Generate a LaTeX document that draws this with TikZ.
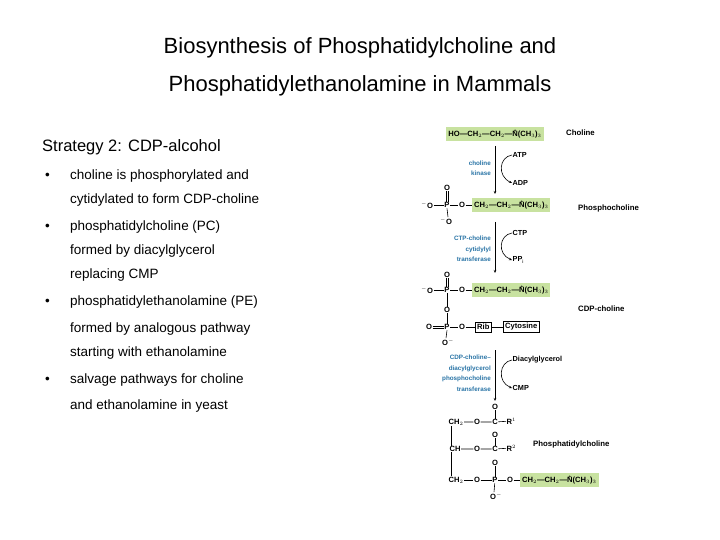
\documentclass[tikz,border=0pt]{standalone}
\usepackage{fontspec}
\setmainfont{Liberation Sans}
\usetikzlibrary{arrows.meta}
\definecolor{gbox}{RGB}{200,226,160}
\definecolor{enz}{RGB}{40,115,165}
\newcommand\Np{\makebox[0pt][l]{\raisebox{1.1ex}{\kern0.2em\fontsize{4.5}{4.5}\selectfont+}}N}
\newcommand\chn{CH$_2$—CH$_2$—\Np(CH$_3$)$_3$}
\tikzset{
 chem/.style={inner sep=0.5pt,font=\fontsize{7.6}{8}\selectfont\bfseries},
 green/.style={chem,fill=gbox,inner xsep=2pt,inner ysep=2.5pt},
 lab/.style={inner sep=0pt,font=\fontsize{7.8}{8}\selectfont\bfseries,anchor=west},
 enzl/.style={inner sep=0pt,font=\fontsize{6.3}{10.5}\selectfont\bfseries,text=enz,align=right,anchor=east},
 bond/.style={line width=0.6pt},
 rxn/.style={line width=0.6pt,-{Stealth[length=3pt,width=2.5pt]}},
 side/.style={inner sep=0.5pt,font=\fontsize{7.3}{8}\selectfont\bfseries,anchor=west},
 bl/.style={anchor=west,inner sep=0pt,font=\fontsize{13.5}{16}\selectfont}
}
\begin{document}
\begin{tikzpicture}[x=1pt,y=-1pt]
\useasboundingbox (0,0) rectangle (720,540);
% title
\node[font=\fontsize{22}{26}\selectfont] (t1) at (360,48) {Biosynthesis of Phosphatidylcholine and};
\node[font=\fontsize{22}{26}\selectfont] (t2) at (360,86) {Phosphatidylethanolamine in Mammals};
\node[anchor=west,inner sep=0pt,font=\fontsize{16.5}{20}\selectfont] (strat) at (42,147) {Strategy 2: CDP-alcohol};
\node[bl] (d1) at (45,176) {•}; \node[bl] (l1) at (70,176) {choline is phosphorylated and};
\node[bl] (l2) at (70,200) {cytidylated to form CDP-choline};
\node[bl] (d2) at (45,227) {•}; \node[bl] (l3) at (70,227) {phosphatidylcholine (PC)};
\node[bl] (l4) at (70,251) {formed by diacylglycerol};
\node[bl] (l5) at (70,275) {replacing CMP};
\node[bl] (d3) at (45,302) {•}; \node[bl] (l6) at (70,302) {phosphatidylethanolamine (PE)};
\node[bl] (l7) at (70,329) {formed by analogous pathway};
\node[bl] (l8) at (70,353) {starting with ethanolamine};
\node[bl] (d4) at (45,380) {•}; \node[bl] (l9) at (70,380) {salvage pathways for choline};
\node[bl] (l10) at (70,406) {and ethanolamine in yeast};
% ---- choline
\node[green] (cho) at (495,134) {HO—\chn};
\node[lab] (chol) at (566,133) {Choline};
% arrow 1
\coordinate (a1s) at (495,146);
\coordinate (a1e) at (495,194);
\draw[rxn] (a1s) -- (a1e);
\node[side] (atp) at (512,155) {ATP};
\node[side] (adp) at (512,183) {ADP};
\draw[rxn] (atp.west) .. controls (499,157) and (497,176) .. (adp.west);
\node[enzl] (e1) at (491,168) {choline\\kinase};
% ---- phosphocholine
\node[green,anchor=west] (g2) at (472,205) {\chn};
\node[chem] (p2) at (447,205) {P};
\node[chem] (om2) at (427,205) {$^-$O};
\node[chem] (o2) at (462,205) {O};
\node[chem] (ot2) at (447,188) {O};
\node[chem] (ob2) at (446,221) {$^-$O};
\draw[bond] (om2) -- (p2) -- (o2) -- (g2);
\draw[bond] ([xshift=-1pt]ot2.south) -- ([xshift=-1pt]p2.north);
\draw[bond] ([xshift=1pt]ot2.south) -- ([xshift=1pt]p2.north);
\draw[bond] (p2.south) -- ([xshift=2pt]ob2.north);
\node[lab] (pcl) at (578,208) {Phosphocholine};
% arrow 2
\coordinate (a2s) at (495,222);
\coordinate (a2e) at (495,273);
\draw[rxn] (a2s) -- (a2e);
\node[side] (ctp) at (512,233) {CTP};
\node[side] (ppi) at (512,260) {PP$_\mathrm{i}$};
\draw[rxn] (ctp.west) .. controls (499,235) and (497,254) .. (ppi.west);
\node[enzl] (e2) at (491,249) {CTP-choline\\cytidylyl\\transferase};
% ---- CDP-choline
\node[green,anchor=west] (g3) at (472,290) {\chn};
\node[chem] (p3) at (447,290) {P};
\node[chem] (om3) at (427,290) {$^-$O};
\node[chem] (o3) at (462,290) {O};
\node[chem] (ot3) at (447,275) {O};
\node[chem] (om3b) at (447,310) {O};
\draw[bond] (om3) -- (p3) -- (o3) -- (g3);
\draw[bond] ([xshift=-1pt]ot3.south) -- ([xshift=-1pt]p3.north);
\draw[bond] ([xshift=1pt]ot3.south) -- ([xshift=1pt]p3.north);
\draw[bond] (p3.south) -- (om3b.north);
\node[chem] (p4) at (447,327) {P};
\node[chem] (od4) at (429,327) {O};
\node[chem] (o4) at (462,327) {O};
\node[chem] (ob4) at (448,342) {O$^-$};
\node[chem,draw,inner sep=2pt,anchor=west] (rib) at (475,327) {Rib};
\node[chem,draw,inner sep=2pt,anchor=west] (cyt) at (503,327) {Cytosine};
\draw[bond] ([yshift=-1pt]od4.east) -- ([yshift=-1pt]p4.west);
\draw[bond] ([yshift=1pt]od4.east) -- ([yshift=1pt]p4.west);
\draw[bond] (p4) -- (o4) -- (rib) -- (cyt);
\draw[bond] (om3b.south) -- (p4.north);
\draw[bond] (p4.south) -- ([xshift=-2pt]ob4.north);
\node[lab] (cdpl) at (578,309) {CDP-choline};
% arrow 3
\coordinate (a3s) at (495,350);
\coordinate (a3e) at (495,401);
\draw[rxn] (a3s) -- (a3e);
\node[side] (dag) at (512,360) {Diacylglycerol};
\node[side] (cmp) at (512,388) {CMP};
\draw[rxn] (dag.west) .. controls (499,362) and (497,382) .. (cmp.west);
\node[enzl] (e3) at (491,373) {CDP-choline–\\diacylglycerol\\phosphocholine\\transferase};
% ---- phosphatidylcholine
\node[chem] (ct1) at (495,407) {O};
\node[chem] (ch1) at (456,422) {CH$_2$};
\node[chem] (oe1) at (477,422) {O};
\node[chem] (c1) at (495,422) {C};
\node[chem,anchor=west] (r1) at (506,421) {R$^1$};
\node[chem] (ct2) at (495,435) {O};
\node[chem] (ch2) at (455,449) {CH};
\node[chem] (oe2) at (477,449) {O};
\node[chem] (c2) at (495,449) {C};
\node[chem,anchor=west] (r2) at (506,448) {R$^2$};
\node[chem] (ot5) at (495,463) {O};
\node[chem] (ch3) at (456,480) {CH$_2$};
\node[chem] (oe3) at (477,480) {O};
\node[chem] (p5) at (495,480) {P};
\node[chem] (o5) at (510,480) {O};
\node[green,anchor=west] (g5) at (520,480) {\chn};
\node[chem] (ob5) at (496,496) {O$^-$};
\draw[bond] (ch1) -- (oe1) -- (c1) -- (r1);
\draw[bond] (ch2) -- (oe2) -- (c2) -- (r2);
\draw[bond] (ch3) -- (oe3) -- (p5) -- (o5) -- (g5);
\draw[bond] (ct1) -- (c1); \draw[bond] (ct2) -- (c2);
\draw[bond] (ot5) -- (p5); \draw[bond] (p5) -- ([xshift=-2pt]ob5.north);
\draw[bond] ([xshift=-5pt]ch1.south) -- ([xshift=-4pt]ch2.north);
\draw[bond] ([xshift=-4pt]ch2.south) -- ([xshift=-5pt]ch3.north);
\node[lab] (pchl) at (533,444) {Phosphatidylcholine};
\end{tikzpicture}
\end{document}
